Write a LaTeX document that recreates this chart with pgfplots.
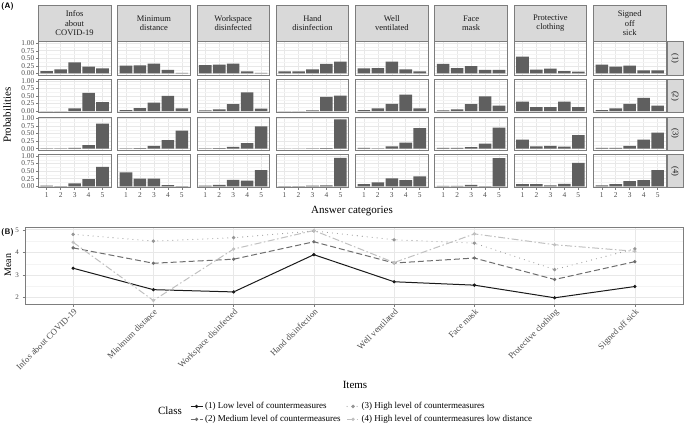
\documentclass[border=0pt]{standalone}
\usepackage{fontspec}
\setmainfont{Liberation Serif}
\usepackage{pgfplots}
\usepackage{pgfplotstable}
\pgfplotsset{compat=1.18}

\definecolor{bargray}{RGB}{95,95,95}
\definecolor{stripbg}{RGB}{217,217,217}
\definecolor{framegray}{RGB}{125,125,125}
\definecolor{gridmaj}{RGB}{232,232,232}
\definecolor{gridmin}{RGB}{244,244,244}
\definecolor{tickgray}{RGB}{77,77,77}
\definecolor{striptext}{RGB}{26,26,26}
\definecolor{cA}{RGB}{26,26,26}
\definecolor{cB}{RGB}{110,110,110}
\definecolor{cC}{RGB}{150,150,150}
\definecolor{cD}{RGB}{192,192,192}

% Panel A: probabilities per class (rows = answer category)
\pgfplotstableread{
cat i1 i2 i3 i4 i5 i6 i7 i8
1 0.08 0.26 0.28 0.07 0.17 0.32 0.56 0.29
2 0.14 0.27 0.29 0.07 0.18 0.18 0.13 0.23
3 0.37 0.33 0.33 0.14 0.39 0.24 0.16 0.26
4 0.23 0.12 0.07 0.32 0.14 0.12 0.08 0.10
5 0.17 0.02 0.02 0.39 0.07 0.12 0.06 0.10
}\classA
\pgfplotstableread{
cat i1 i2 i3 i4 i5 i6 i7 i8
1 0.003 0.03 0.02 0.003 0.03 0.02 0.31 0.03
2 0.003 0.10 0.06 0.003 0.09 0.06 0.13 0.09
3 0.09 0.28 0.23 0.02 0.24 0.23 0.13 0.24
4 0.60 0.50 0.62 0.47 0.54 0.49 0.31 0.44
5 0.30 0.09 0.08 0.51 0.09 0.18 0.13 0.18
}\classB
\pgfplotstableread{
cat i1 i2 i3 i4 i5 i6 i7 i8
1 0.01 0.01 0.01 0.003 0.03 0.03 0.30 0.03
2 0.01 0.02 0.02 0.003 0.01 0.03 0.08 0.03
3 0.03 0.09 0.06 0.01 0.08 0.05 0.09 0.09
4 0.12 0.28 0.18 0.02 0.20 0.17 0.07 0.30
5 0.83 0.60 0.74 0.97 0.68 0.70 0.45 0.53
}\classC
\pgfplotstableread{
cat i1 i2 i3 i4 i5 i6 i7 i8
1 0.02 0.46 0.02 0.003 0.07 0.01 0.07 0.03
2 0.003 0.25 0.05 0.003 0.13 0.01 0.07 0.07
3 0.10 0.25 0.21 0.02 0.26 0.05 0.03 0.17
4 0.24 0.04 0.19 0.03 0.20 0.003 0.08 0.20
5 0.64 0.003 0.53 0.94 0.33 0.93 0.77 0.53
}\classD
% Panel B: means
\pgfplotstableread{
item c1 c2 c3 c4
1 3.30 4.20 4.80 4.45
2 2.35 3.52 4.50 1.87
3 2.25 3.70 4.65 4.15
4 3.90 4.47 4.95 4.97
5 2.70 3.53 4.56 3.55
6 2.55 3.75 4.41 4.82
7 1.99 2.80 3.24 4.34
8 2.49 3.59 4.16 4.05
}\means

\pgfplotsset{
  smallpanel/.style={
    scale only axis, width=72.6pt, height=33.3pt,
    anchor=north west,
    xmin=0.4, xmax=5.6, ymin=-0.05, ymax=1.05,
    xtick={1,2,3,4,5},
    ytick={0,0.25,0.5,0.75,1},
    minor ytick={0.125,0.375,0.625,0.875},
    grid=both,
    major grid style={draw=gridmaj, line width=0.6pt},
    minor grid style={draw=gridmin, line width=0.4pt},
    axis line style={draw=framegray, line width=0.8pt},
    tick align=outside, xtick pos=bottom, ytick pos=left,
    major tick length=2pt, minor tick length=0pt,
    tick style={draw=framegray, line width=0.5pt},
    ticklabel style={font=\fontsize{7.4}{7.4}\selectfont, text=tickgray},
    xticklabel style={yshift=1pt},
    yticklabel style={xshift=1.5pt, /pgf/number format/.cd, fixed, fixed zerofill, precision=2},
    /pgf/number format/assume math mode=true,
  },
  nox/.style={xticklabels={}, xtick style={draw=none}},
  noy/.style={yticklabels={}, ytick style={draw=none}},
}

\newcommand{\panel}[4]{%
  \begin{axis}[smallpanel, at={({38.3pt+(#2-1)*79.3pt},{-41.7pt-(#1-1)*37.6pt})}, #4]
    \addplot[ybar, bar width=0.9, fill=bargray, draw=none] table[x=cat, y=i#2] {#3};
  \end{axis}%
}

\begin{document}
\begin{tikzpicture}
% ---------- Panel A ----------
\node[anchor=north west, font=\sffamily\bfseries\fontsize{8}{8}\selectfont, inner sep=0pt] at (1pt,-2pt) {(A)};

\foreach \c/\t in {1/{Infos\\about\\COVID-19}, 2/{Minimum\\distance}, 3/{Workspace\\disinfected}, 4/{Hand\\disinfection}, 5/{Well\\ventilated}, 6/{Face\\mask}, 7/{Protective\\clothing}, 8/{Signed\\off\\sick}}{
  \pgfmathsetmacro{\xl}{38.3+(\c-1)*79.3}
  \draw[framegray, fill=stripbg, line width=0.8pt] (\xl pt,-5pt) rectangle ++(72.6pt,-36.7pt);
  \node[align=center, text=striptext, font=\fontsize{8.5}{9.3}\selectfont, inner sep=0pt] at ({\xl pt+36.3pt},-23.35pt) {\t};
}
\foreach \r in {1,2,3,4}{
  \pgfmathsetmacro{\yt}{41.7+(\r-1)*37.6}
  \draw[framegray, fill=stripbg, line width=0.8pt] (667pt,-\yt pt) rectangle ++(16pt,-33.3pt);
  \node[rotate=-90, text=striptext, font=\fontsize{8.5}{9}\selectfont, inner sep=0pt] at (675pt,{-\yt pt-16.65pt}) {(\r)};
}

\panel{1}{1}{\classA}{nox}
\panel{1}{2}{\classA}{nox,noy}
\panel{1}{3}{\classA}{nox,noy}
\panel{1}{4}{\classA}{nox,noy}
\panel{1}{5}{\classA}{nox,noy}
\panel{1}{6}{\classA}{nox,noy}
\panel{1}{7}{\classA}{nox,noy}
\panel{1}{8}{\classA}{nox,noy}
\panel{2}{1}{\classB}{nox}
\panel{2}{2}{\classB}{nox,noy}
\panel{2}{3}{\classB}{nox,noy}
\panel{2}{4}{\classB}{nox,noy}
\panel{2}{5}{\classB}{nox,noy}
\panel{2}{6}{\classB}{nox,noy}
\panel{2}{7}{\classB}{nox,noy}
\panel{2}{8}{\classB}{nox,noy}
\panel{3}{1}{\classC}{nox}
\panel{3}{2}{\classC}{nox,noy}
\panel{3}{3}{\classC}{nox,noy}
\panel{3}{4}{\classC}{nox,noy}
\panel{3}{5}{\classC}{nox,noy}
\panel{3}{6}{\classC}{nox,noy}
\panel{3}{7}{\classC}{nox,noy}
\panel{3}{8}{\classC}{nox,noy}
\panel{4}{1}{\classD}{}
\panel{4}{2}{\classD}{noy}
\panel{4}{3}{\classD}{noy}
\panel{4}{4}{\classD}{noy}
\panel{4}{5}{\classD}{noy}
\panel{4}{6}{\classD}{noy}
\panel{4}{7}{\classD}{noy}
\panel{4}{8}{\classD}{noy}

\node[rotate=90, font=\fontsize{11}{11}\selectfont] at (7pt,-115pt) {Probabilities};
\node[font=\fontsize{11}{11}\selectfont] at (352pt,-211pt) {Answer categories};

% ---------- Panel B ----------
\node[anchor=north west, font=\sffamily\bfseries\fontsize{8}{8}\selectfont, inner sep=0pt] at (1pt,-228pt) {(B)};

\begin{axis}[
  scale only axis, width=658pt, height=77pt,
  at={(25pt,-227pt)}, anchor=north west,
  xmin=0.4, xmax=8.6, ymin=1.715, ymax=5.125,
  xtick={1,2,3,4,5,6,7,8},
  xticklabels={Infos about COVID-19, Minimum distance, Workspace disinfected, Hand disinfection, Well ventilated, Face mask, Protective clothing, Signed off sick},
  ytick={2,3,4,5}, minor ytick={2.5,3.5,4.5},
  grid=both,
  major grid style={draw=gridmaj, line width=0.7pt},
  minor grid style={draw=gridmin, line width=0.4pt},
  axis line style={draw=framegray, line width=0.8pt},
  tick align=outside, xtick pos=bottom, ytick pos=left,
  major tick length=2.5pt, minor tick length=0pt,
  tick style={draw=framegray, line width=0.5pt},
  xticklabel style={rotate=45, anchor=north east, font=\fontsize{8.8}{8.8}\selectfont, text=tickgray, inner sep=1pt},
  yticklabel style={font=\fontsize{7}{7}\selectfont, text=tickgray},
  /pgf/number format/assume math mode=true,
  legend columns=2, transpose legend,
  legend style={at={(0.246,-1.225)}, anchor=north west, draw=none, fill=none,
    font=\fontsize{9}{9}\selectfont, row sep=1pt,
    /tikz/every even column/.append style={column sep=4pt}},
  legend cell align=left,
  legend image code/.code={\draw[mark repeat=2, mark phase=2] plot coordinates {(0pt,0pt) (6pt,0pt) (12pt,0pt)};},
]
\addplot[cA, line width=1pt, mark=*, mark size=1.1pt] table[x=item, y=c1] {\means};
\addlegendentry{(1) Low level of countermeasures}
\addplot[cB, line width=1pt, dash pattern=on 6pt off 3pt, mark=*, mark size=1.1pt, mark options={solid}] table[x=item, y=c2] {\means};
\addlegendentry{(2) Medium level of countermeasures}
\addplot[cC, line width=1.1pt, line cap=round, dash pattern=on 0pt off 5pt, mark=*, mark size=1.1pt, mark options={solid}] table[x=item, y=c3] {\means};
\addlegendentry{(3) High level of countermeasures}
\addplot[cD, line width=1pt, dash pattern=on 7pt off 2.5pt on 1.5pt off 2.5pt, mark=*, mark size=1.1pt, mark options={solid}] table[x=item, y=c4] {\means};
\addlegendentry{(4) High level of countermeasures low distance}
\end{axis}

\node[rotate=90, font=\fontsize{10}{10}\selectfont] at (8pt,-265pt) {Mean};
\node[font=\fontsize{11}{11}\selectfont] at (355pt,-385pt) {Items};
\node[font=\fontsize{11}{11}\selectfont] at (170pt,-411pt) {Class};

\pgfresetboundingbox
\path[use as bounding box] (0,0) rectangle (685pt,-432pt);
\end{tikzpicture}
\end{document}
